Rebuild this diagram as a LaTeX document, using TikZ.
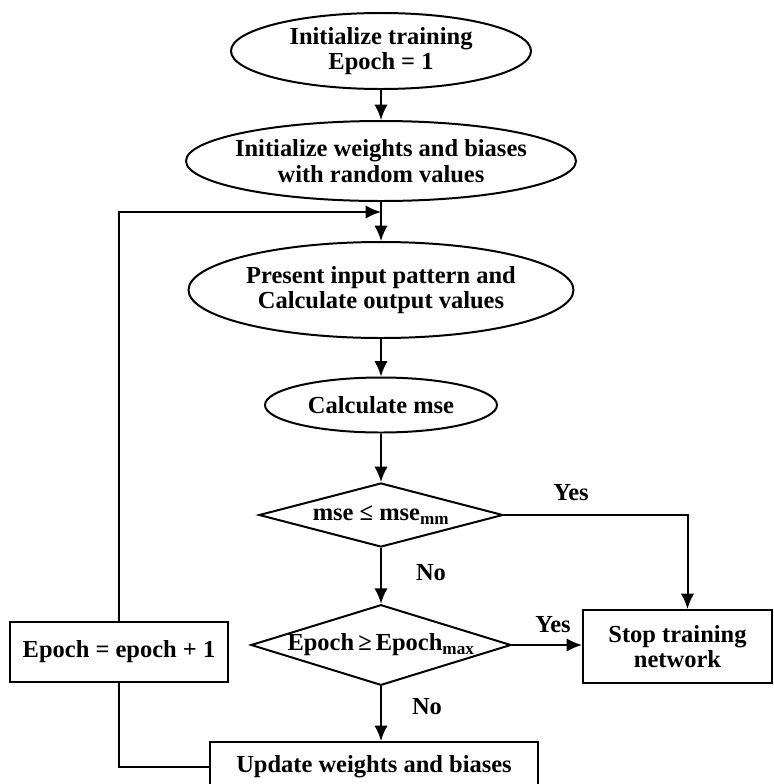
\documentclass[tikz,border=0pt]{standalone}
\usepackage{fontspec}
\setmainfont{Liberation Serif}
\usetikzlibrary{shapes.geometric,arrows.meta,positioning}

\begin{document}
\begin{tikzpicture}[
  line width=1.7pt,
  >={Latex[length=4.6mm,width=4mm]},
  every node/.style={font=\fontsize{20.9}{21.6}\selectfont\bfseries},
  stepell/.style={ellipse, draw, align=center, inner xsep=-0.6cm,
    inner ysep=0pt},
  testbox/.style={diamond, draw, aspect=3.2, inner sep=0pt, align=center},
  procbox/.style={rectangle, draw, align=center, inner sep=3pt},
]
% fixed frame
\useasboundingbox (0,0) rectangle (23.22,-23.52);

% Main column
\node[stepell, minimum width=9.0cm, minimum height=2.28cm] (init) at (11.43,-1.53)
  {Initialize training\\Epoch = 1};
\node[stepell, minimum width=11.7cm, minimum height=2.4cm] (weights) at (11.43,-4.83)
  {Initialize weights and biases\\with random values};
\node[stepell, minimum width=11.55cm, minimum height=2.88cm] (present) at (11.43,-8.70)
  {Present input pattern and\\Calculate output values};
\node[stepell, minimum width=6.96cm, minimum height=1.65cm] (calcmse) at (11.43,-12.15)
  {Calculate mse};

% Decisions
\node[testbox, minimum width=7.32cm, minimum height=1.92cm] (msetest) at (11.43,-15.45)
  {mse ≤ mse\textsubscript{mm}};
\node[testbox, minimum width=7.8cm, minimum height=2.4cm] (epochtest) at (11.43,-19.35)
  {Epoch\,≥\,Epoch\textsubscript{max}};

% Boxes
\node[procbox, minimum width=5.67cm, minimum height=2.19cm] (stop) at (20.325,-19.395)
  {Stop training\\network};
\node[procbox, minimum width=6.54cm, minimum height=1.8cm] (counter) at (3.57,-19.56)
  {Epoch = epoch + 1};
\node[procbox, minimum width=9.84cm, minimum height=1.5cm] (update) at (11.22,-23.01)
  {Update weights and biases};

% Main flow
\draw[->] (init) -- (weights);
\draw[->] (weights) -- (present);
\draw[->] (present) -- (calcmse);
\draw[->] (calcmse) -- (msetest);
\draw[->] (msetest) -- (epochtest);
\draw[->] (epochtest.south) -- (epochtest.south |- update.north);

% Exits
\draw[->] (msetest.east) -| ([xshift=3mm]stop.north);
\draw[->] (epochtest.east) -- (epochtest.east -| stop.west);

% Loop back
\coordinate (join) at (11.43,-6.36);
\draw (update.west) -| (counter.south);
\draw[->] (counter.north) |- (join);

% Branch labels
\node (yes1) at (17.13,-14.79) {Yes};
\node (yes2) at (16.59,-18.75) {Yes};
\node (no1) at (12.93,-17.19) {No};
\node (no2) at (12.81,-21.21) {No};

\end{tikzpicture}
\end{document}
